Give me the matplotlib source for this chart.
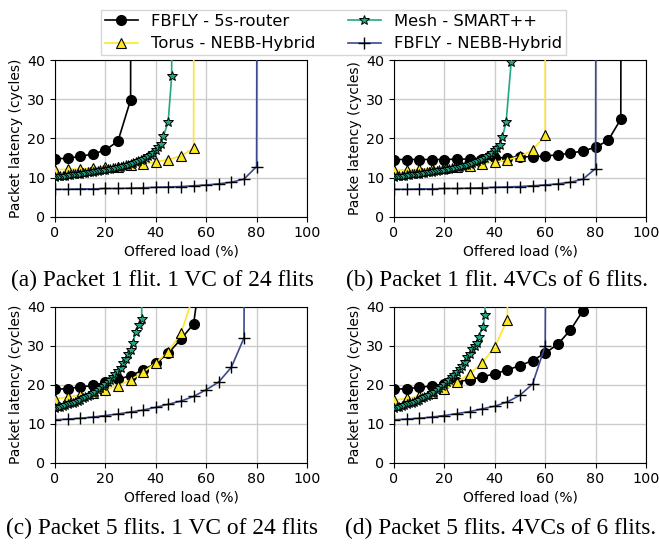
import matplotlib
matplotlib.use("Agg")
import matplotlib.pyplot as plt

W, H = 659, 548
fig = plt.figure(figsize=(W / 100, H / 100), dpi=100)

# ---------------- data ----------------
series_names = ["FBFLY - 5s-router", "Torus - NEBB-Hybrid", "Mesh - SMART++", "FBFLY - NEBB-Hybrid"]
captions = ["(a) Packet 1 flit. 1 VC of 24 flits",
            "(b) Packet 1 flit. 4VCs of 6 flits.",
            "(c) Packet 5 flits. 1 VC of 24 flits",
            "(d) Packet 5 flits. 4VCs of 6 flits."]
ylabels = ["Packet latency (cycles)", "Packe latency (cycles)",
           "Packet latency (cycles)", "Packet latency (cycles)"]
xticks = [0, 20, 40, 60, 80, 100]
yticks = [0, 10, 20, 30, 40]

# (a) Packet 1 flit, 1 VC of 24 flits
a_5s_x = [0, 5, 10, 15, 20, 25, 30, 30.3]
a_5s_y = [14.8, 14.9, 15.4, 16.0, 17.0, 19.3, 29.8, 200]
a_torus_x = [0, 5, 10, 15, 20, 25, 30, 35, 40, 45, 50, 55, 55.5]
a_torus_y = [12.0, 12.1, 12.2, 12.4, 12.6, 12.8, 13.1, 13.5, 14.0, 14.6, 15.5, 17.5, 200]
a_mesh_x = [0, 1, 2, 3, 4, 5, 6, 7, 8, 9, 10, 11, 12, 13, 14, 15, 16, 17, 18, 19, 20,
            21, 22, 23, 24, 25, 26, 27, 28, 29, 30, 31, 32, 33, 34, 35, 36, 37, 38, 39,
            40, 41, 42, 43, 44.9, 46.3, 46.6]
a_mesh_y = [10.2, 10.3, 10.4, 10.5, 10.5, 10.6, 10.7, 10.8, 10.8, 10.9, 11.0, 11.1, 11.2,
            11.3, 11.4, 11.5, 11.6, 11.7, 11.8, 11.9, 12.0, 12.1, 12.2, 12.4, 12.5, 12.6,
            12.8, 13.0, 13.1, 13.3, 13.5, 13.7, 13.9, 14.1, 14.4, 14.7, 15.0, 15.4, 15.8,
            16.3, 16.9, 17.7, 18.6, 20.5, 24.2, 35.8, 200]
a_nebb_x = [0, 5, 10, 15, 20, 25, 30, 35, 40, 45, 50, 55, 60, 65, 70, 75, 80, 80.5]
a_nebb_y = [7.0, 7.0, 7.1, 7.1, 7.2, 7.2, 7.3, 7.4, 7.5, 7.6, 7.7, 7.9, 8.1, 8.4, 8.8, 9.6, 12.8, 200]

# (b) Packet 1 flit, 4VCs of 6 flits
b_5s_x = [0, 5, 10, 15, 20, 25, 30, 35, 40, 45, 50, 55, 60, 65, 70, 75, 80, 85, 90, 90.4]
b_5s_y = [14.6, 14.6, 14.6, 14.6, 14.6, 14.7, 14.7, 14.8, 15.0, 15.1, 15.3, 15.3, 15.5,
          15.8, 16.2, 16.8, 17.7, 19.5, 24.9, 200]
b_torus_x = [0, 5, 10, 15, 20, 25, 30, 35, 40, 45, 50, 55, 60, 60.1]
b_torus_y = [11.8, 12.0, 12.1, 12.3, 12.5, 12.8, 13.0, 13.4, 13.9, 14.5, 15.4, 17.0, 20.8, 200]
b_mesh_x = [0, 1, 2, 3, 4, 5, 6, 7, 8, 9, 10, 11, 12, 13, 14, 15, 16, 17, 18, 19, 20,
            21, 22, 23, 24, 25, 26, 27, 28, 29, 30, 31, 32, 33, 34, 35, 36, 37, 38, 39,
            40, 41, 42, 43, 44.5, 46.5, 46.8]
b_mesh_y = [10.2, 10.3, 10.4, 10.5, 10.5, 10.6, 10.7, 10.8, 10.8, 10.9, 11.0, 11.1, 11.2,
            11.3, 11.4, 11.5, 11.6, 11.7, 11.8, 11.9, 12.0, 12.1, 12.2, 12.4, 12.5, 12.6,
            12.8, 13.0, 13.1, 13.3, 13.5, 13.7, 13.9, 14.1, 14.4, 14.7, 15.0, 15.4, 15.8,
            16.3, 16.9, 17.6, 18.4, 20.3, 24.2, 39.5, 200]
b_nebb_x = [0, 5, 10, 15, 20, 25, 30, 35, 40, 45, 50, 55, 60, 65, 70, 75, 80, 80.4]
b_nebb_y = [7.0, 7.0, 7.1, 7.1, 7.2, 7.2, 7.3, 7.4, 7.5, 7.6, 7.7, 7.9, 8.1, 8.4, 8.8, 9.6, 12.3, 200]

# (c) Packet 5 flits, 1 VC of 24 flits
c_5s_x = [0, 5, 10, 15, 20, 25, 30, 35, 40, 45, 50, 55, 57]
c_5s_y = [18.8, 19.0, 19.4, 19.8, 20.6, 21.4, 22.3, 23.8, 25.5, 28.1, 31.7, 35.6, 45]
c_torus_x = [0, 5, 10, 15, 20, 25, 30, 35, 40, 45, 50, 55]
c_torus_y = [16.4, 16.8, 17.4, 17.9, 18.7, 19.7, 21.3, 23.2, 25.6, 28.5, 33.2, 43]
c_mesh_x = [0, 1, 2, 3, 4, 5, 6, 7, 8, 9, 10, 11, 12, 13, 14, 15, 16, 17, 18, 19, 20,
            21, 22, 23, 24, 25, 26, 27, 28, 29, 30, 31, 32, 33.4, 34.4, 34.8]
c_mesh_y = [14.0, 14.2, 14.4, 14.6, 14.8, 15.0, 15.2, 15.4, 15.6, 15.9, 16.2, 16.5, 16.8,
            17.1, 17.4, 17.8, 18.2, 18.6, 19.1, 19.6, 20.1, 20.7, 21.3, 22.0, 22.7, 23.5,
            24.4, 25.5, 26.7, 27.9, 29.0, 30.8, 33.6, 35.2, 36.8, 200]
c_nebb_x = [0, 5, 10, 15, 20, 25, 30, 35, 40, 45, 50, 55, 60, 65, 70, 75, 76]
c_nebb_y = [11.0, 11.2, 11.4, 11.7, 12.1, 12.5, 13.0, 13.5, 14.2, 15.0, 15.8, 17.0, 18.7,
            20.7, 24.5, 32.0, 200]

# (d) Packet 5 flits, 4VCs of 6 flits
d_5s_x = [0, 5, 10, 15, 20, 25, 30, 35, 40, 45, 50, 55, 60, 65, 70, 75]
d_5s_y = [18.8, 19.0, 19.3, 19.7, 20.2, 20.7, 21.3, 22.0, 22.8, 23.8, 24.9, 26.2, 28.1,
          30.4, 34.0, 39.0]
d_torus_x = [0, 5, 10, 15, 20, 25, 30, 35, 40, 45, 45.4]
d_torus_y = [16.0, 16.5, 17.0, 17.8, 18.8, 20.7, 22.8, 25.6, 29.7, 36.7, 200]
d_mesh_x = [0, 1, 2, 3, 4, 5, 6, 7, 8, 9, 10, 11, 12, 13, 14, 15, 16, 17, 18, 19, 20,
            21, 22, 23, 24, 25, 26, 27, 28, 29, 30, 31, 32, 32.8, 33.7, 35.2, 36.1, 36.5]
d_mesh_y = [14.0, 14.2, 14.4, 14.6, 14.8, 15.0, 15.2, 15.4, 15.6, 15.9, 16.2, 16.5, 16.8,
            17.1, 17.4, 17.8, 18.2, 18.6, 19.1, 19.6, 20.1, 20.7, 21.3, 21.9, 22.5, 23.2,
            24.0, 24.9, 25.9, 27.0, 28.0, 29.1, 30.0, 30.6, 32.3, 34.7, 37.9, 200]
d_nebb_x = [0, 5, 10, 15, 20, 25, 30, 35, 40, 45, 50, 55, 60, 61.2]
d_nebb_y = [11.0, 11.2, 11.4, 11.7, 12.1, 12.6, 13.1, 13.8, 14.5, 15.6, 17.3, 20.2, 30.0, 200]

panels = [
    [(a_5s_x, a_5s_y), (a_torus_x, a_torus_y), (a_mesh_x, a_mesh_y), (a_nebb_x, a_nebb_y)],
    [(b_5s_x, b_5s_y), (b_torus_x, b_torus_y), (b_mesh_x, b_mesh_y), (b_nebb_x, b_nebb_y)],
    [(c_5s_x, c_5s_y), (c_torus_x, c_torus_y), (c_mesh_x, c_mesh_y), (c_nebb_x, c_nebb_y)],
    [(d_5s_x, d_5s_y), (d_torus_x, d_torus_y), (d_mesh_x, d_mesh_y), (d_nebb_x, d_nebb_y)],
]

# ---------------- styles ----------------
styles = [
    dict(color="black", marker="o", markersize=7, markerfacecolor="black",
         markeredgecolor="black", lw=1.2),
    dict(color="#fde725", marker="^", markersize=7.5, markerfacecolor="#fde725",
         markeredgecolor="black", markeredgewidth=0.8, lw=1.2),
    dict(color="#22a884", marker="*", markersize=7, markerfacecolor="#22a884",
         markeredgecolor="black", markeredgewidth=0.7, lw=1.2),
    dict(color="#3b4a8c", marker="+", markersize=8, markeredgecolor="black",
         markeredgewidth=1.0, lw=1.2),
]

# axes positions in pixels: (left, top, right, bottom)
boxes = [(55, 60, 307, 216.7), (394, 60, 646, 216.7),
         (55, 306.7, 307, 462.7), (394, 306.7, 646, 462.7)]
cap_pos = [(162, 280), (497, 280), (162, 528), (501, 528)]

axes = []
for i, (l, t, r, b) in enumerate(boxes):
    ax = fig.add_axes([l / W, 1 - b / H, (r - l) / W, (b - t) / H])
    axes.append(ax)
    for j, (xs, ys) in enumerate(panels[i]):
        ax.plot(xs, ys, label=series_names[j], zorder=3 + j, **styles[j])
    ax.set_xlim(0, 100)
    ax.set_ylim(0, 40)
    ax.set_xticks(xticks)
    ax.set_yticks(yticks)
    ax.grid(True, color="#cccccc", lw=1.0)
    ax.set_axisbelow(True)
    ax.tick_params(labelsize=10.3, length=3.5)
    ax.set_xlabel("Offered load (%)", fontsize=10, labelpad=3)
    ax.set_ylabel(ylabels[i], fontsize=10, labelpad=3)
    cx, cy = cap_pos[i]
    fig.text(cx / W, 1 - cy / H, captions[i], ha="center", va="center",
             fontsize=16.8, family="Liberation Serif")

handles, labels = axes[0].get_legend_handles_labels()
fig.legend(handles, labels, ncol=2, loc="upper center",
           bbox_to_anchor=(333.5 / W, 0.997), fontsize=11.8, frameon=True,
           fancybox=False, edgecolor="#cccccc", handlelength=2.0,
           columnspacing=2.0, borderpad=0.25, labelspacing=0.45,
           handletextpad=0.8)

fig.savefig("out.png", dpi=100)
